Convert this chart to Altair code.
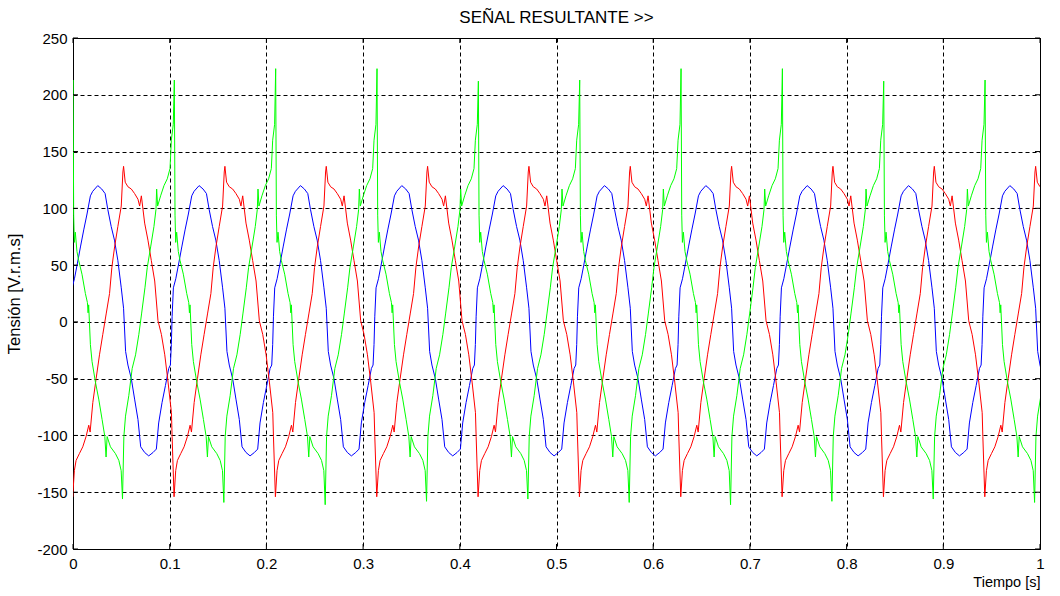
import altair as alt
import pandas as pd

# ---- waveform data (one period, offsets in s from cycle start) ----
PERIOD = 0.1048          # s, read from peak spacing
T0 = -0.0023             # start of the cycle (blue rising zero crossing)
CYCLES = list(range(-1, 11))

blue_off = [0.0, 0.0013, 0.0038, 0.0065, 0.0100, 0.0134, 0.0168, 0.0203, 0.0227, 0.0279,
            0.0320, 0.0355, 0.0383, 0.0418, 0.0452, 0.0487, 0.0522, 0.0546, 0.0567, 0.0591,
            0.0626, 0.0660, 0.0695, 0.0723, 0.0764, 0.0806, 0.0851, 0.0885, 0.0909, 0.0944,
            0.0979, 0.1013, 0.1030, 0.1040]
blue_val = [5, 30, 38, 50, 66, 81, 95, 111, 115, 120,
            117, 113, 99, 84, 72, 54, 30, 12, -26, -38,
            -50, -68, -86, -110, -115, -118, -115, -112, -89, -71,
            -56, -41, -38, -20]

red_off = [0.0, 0.0020, 0.0037, 0.0055, 0.0089, 0.0124, 0.0158, 0.0186, 0.0200, 0.0228,
           0.0262, 0.0297, 0.0331, 0.0366, 0.0401, 0.0425, 0.0453, 0.0487, 0.0522, 0.0539,
           0.0546, 0.0563, 0.0591, 0.0626, 0.0660, 0.0695, 0.0712, 0.0730, 0.0764, 0.0798,
           0.0833, 0.0868, 0.0902, 0.0937, 0.0972, 0.1006, 0.1041]
red_val = [-101, -154, -131, -122, -116, -110, -101, -91, -97, -71,
           -50, -29, -11, 7, 25, 48, 66, 84, 102, 132,
           137, 123, 119, 117, 113, 108, 102, 111, 87, 72,
           54, 36, 1, -11, -29, -53, -80]

green_off = [0.0012, 0.0023, 0.0030, 0.0037, 0.0047, 0.0064, 0.0082, 0.0116, 0.0151, 0.0172,
             0.0179, 0.0185, 0.0203, 0.0220, 0.0255, 0.0289, 0.0324, 0.0352, 0.0365, 0.0376,
             0.0410, 0.0462, 0.0497, 0.0521, 0.0535, 0.0549, 0.0566, 0.0600, 0.0635, 0.0670,
             0.0704, 0.0732, 0.0767, 0.0791, 0.0826, 0.0860, 0.0881, 0.0888, 0.0898, 0.0929,
             0.0964, 0.0998, 0.1026, 0.1040]
green_val = [174, 213, 94, 70, 79, 62, 54, 42, 25, 17,
             8, 15, -20, -35, -53, -68, -86, -101, -119, -101,
             -110, -116, -122, -131, -156, -101, -83, -65, -41, -29,
             -11, 7, 30, 48, 66, 84, 99, 117, 102, 111,
             120, 126, 135, 160]
GREEN_TOP_IDX = 1
GREEN_BOT_IDX = 24
# spike heights of the green phase, cycle by cycle (cycles 0..9)
green_top_spikes = [213, 213, 223, 223, 212, 213, 223, 223, 212, 213]
green_bot_spikes = [-156, -159, -161, -158, -156, -159, -161, -158, -156, -159]

x_ticks = [0, 0.1, 0.2, 0.3, 0.4, 0.5, 0.6, 0.7, 0.8, 0.9, 1.0]
y_ticks = [-200, -150, -100, -50, 0, 50, 100, 150, 200, 250]

FONT = "Liberation Sans"
W, H = 967, 511


def build(name, offs, vals, spikes=None):
    rows = []
    for k in CYCLES:
        v = list(vals)
        if spikes is not None and 0 <= k < len(green_top_spikes):
            v[GREEN_TOP_IDX] = green_top_spikes[k]
            v[GREEN_BOT_IDX] = green_bot_spikes[k]
        for o, y in zip(offs, v):
            t = T0 + k * PERIOD + o
            if -0.01 <= t <= 1.01:
                rows.append({"t": t, "v": y, "s": name})
    return pd.DataFrame(rows)


df_blue = build("blue", blue_off, blue_val)
df_red = build("red", red_off, red_val)
df_green = build("green", green_off, green_val, spikes=True)

x_axis = alt.Axis(values=x_ticks, format="~g", title="Tiempo [s]",
                  titleAnchor="end", titleAlign="right", titleBaseline="top",
                  titleX=W, titleY=26, titleFontSize=14.5, labelPadding=7, labelFlush=False,
                  labelOverlap=False)
y_axis = alt.Axis(values=y_ticks, labelExpr="datum.value + ''", title="Tensión [V.r.m.s]",
                  titleX=-51, titleY=H / 2, titleAlign="center", titleBaseline="bottom",
                  titleFontSize=16.5, labelPadding=6, labelOverlap=False)

x_enc = alt.X("t:Q", scale=alt.Scale(domain=[0, 1], nice=False, zero=False), axis=x_axis)
y_enc = alt.Y("v:Q", scale=alt.Scale(domain=[-200, 250], nice=False, zero=False), axis=y_axis)


def line(df, color):
    return alt.Chart(df).mark_line(color=color, strokeWidth=1, clip=True,
                                   interpolate="linear").encode(x=x_enc, y=y_enc)


xt = pd.DataFrame({"t": x_ticks})
yt = pd.DataFrame({"v": y_ticks})
tick_style = dict(color="black", strokeWidth=1)
ticks_top = alt.Chart(xt).mark_rule(**tick_style).encode(x=x_enc, y=alt.value(0), y2=alt.value(5))
ticks_bot = alt.Chart(xt).mark_rule(**tick_style).encode(
    x=x_enc, y=alt.value("height"), y2=alt.value({"expr": "height - 5"}))
ticks_left = alt.Chart(yt).mark_rule(**tick_style).encode(y=y_enc, x=alt.value(0), x2=alt.value(5))
ticks_right = alt.Chart(yt).mark_rule(**tick_style).encode(
    y=y_enc, x=alt.value("width"), x2=alt.value({"expr": "width - 5"}))

chart = alt.layer(
    line(df_blue, "#0000FF"),
    line(df_red, "#FF0000"),
    line(df_green, "#00FF00"),
    ticks_top, ticks_bot, ticks_left, ticks_right,
).properties(
    width=W, height=H,
    title=alt.TitleParams("SEÑAL RESULTANTE >>", font=FONT, fontSize=17,
                          fontWeight="normal", color="black", anchor="middle", offset=4),
    padding={"left": 73, "top": 38, "right": 20, "bottom": 47},
    autosize=alt.AutoSizeParams(type="none"),
    background="white",
).configure_view(
    stroke="black", strokeWidth=1, fill="white"
).configure_axis(
    labelFont=FONT, labelFontSize=15, labelColor="black",
    titleFont=FONT, titleFontWeight="normal", titleColor="black",
    ticks=False, domain=False,
    grid=True, gridColor="black", gridDash=[4, 3], gridWidth=1, gridOpacity=1,
)

chart.save("out.html", embed_options={"renderer": "svg", "actions": False})
